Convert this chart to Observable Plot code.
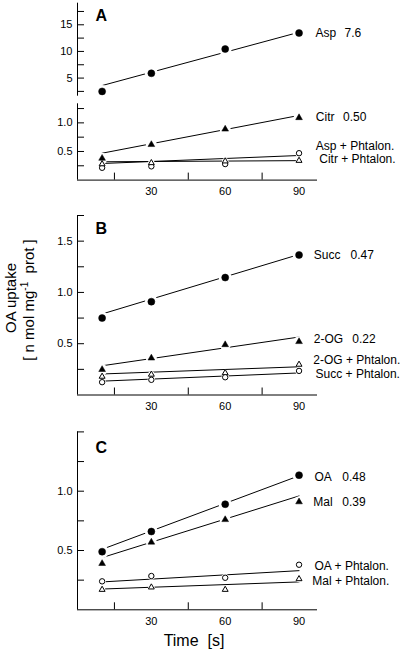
<!DOCTYPE html>
<html>
<head>
<meta charset="utf-8">
<script src="https://cdn.jsdelivr.net/npm/d3@7"></script>
<script src="https://cdn.jsdelivr.net/npm/@observablehq/plot@0.6"></script>
<style>
  body { margin: 0; background: #fff; }
  #chart { position: relative; width: 400px; height: 655px; background: #fff; font-family: "Liberation Sans", Arial, Helvetica, sans-serif; color: #000; }
  #chart svg { position: absolute; left: 0; }
  .rot { position: absolute; transform: translate(-50%, -50%) rotate(-90deg); white-space: pre; font-size: 15px; }
  .xt { position: absolute; transform: translate(-50%, -50%); white-space: pre; font-size: 16px; }
</style>
</head>
<body>
<div id="chart">
  <div class="rot" style="left:10px; top:298px;">OA uptake</div>
  <div class="rot" style="left:28px; top:300px;">[ n mol mg<sup style="font-size:10px">-1</sup>  prot ]</div>
  <div class="xt" style="left:194px; top:641px;">Time  [s]</div>
</div>
<script>
// ---------- data ----------
const time = [10, 30, 60, 90];
const fitTime = [10, 90];
const xTicks = [30, 60, 90];
const xMinorTicks = [15, 45, 75];

// Panel A
const asp = [2.5, 5.9, 10.45, 13.45];
const aspFit = [3.6, 13.6];
const citr = [0.38, 0.62, 0.89, 1.09];
const citrFit = [0.47, 1.13];
const aspPhtalon = [0.215, 0.24, 0.28, 0.47];
const aspPhtalonFit = [0.29, 0.43];
const citrPhtalon = [0.28, 0.30, 0.33, 0.34];
const citrPhtalonFit = [0.32, 0.34];
const aTopTicks = [5, 10, 15];
const aTopMinor = [2.5, 7.5, 12.5, 17.5];
const aBottomTicks = [0.5, 1.0];
const aBottomMinor = [0.25, 0.75, 1.25];

// Panel B
const succ = [0.75, 0.91, 1.145, 1.365];
const succFit = [0.79, 1.37];
const og = [0.248, 0.36, 0.49, 0.52];
const ogFit = [0.285, 0.565];
const ogPhtalon = [0.18, 0.20, 0.215, 0.297];
const ogPhtalonFit = [0.205, 0.275];
const succPhtalon = [0.125, 0.148, 0.173, 0.235];
const succPhtalonFit = [0.135, 0.215];
const bTicks = [0.5, 1.0, 1.5];
const bMinor = [0.25, 0.75, 1.25, 1.75];

// Panel C
const oa = [0.49, 0.66, 0.89, 1.135];
const oaFit = [0.51, 1.13];
const mal = [0.39, 0.57, 0.76, 0.91];
const malFit = [0.44, 0.96];
const oaPhtalon = [0.24, 0.285, 0.27, 0.38];
const oaPhtalonFit = [0.235, 0.33];
const malPhtalon = [0.17, 0.19, 0.17, 0.26];
const malPhtalonFit = [0.175, 0.235];
const cTicks = [0.5, 1.0];
const cMinor = [0.25, 0.75, 1.25, 1.5];

// ---------- drawing ----------
const FONT = '"Liberation Sans", Arial, Helvetica, sans-serif';
const chart = document.getElementById("chart");

function seriesMarks(s) {
  const rows = time.map((t, i) => ({t, v: s.values[i]}));
  const fitRows = fitTime.map((t, i) => ({t, v: s.fit[i]}));
  const last = rows[rows.length - 1];
  const filled = s.filled;
  const r = s.symbol === "circle" ? (filled ? 3.5 : 2.7) : (filled ? 2.5 : 2.2);
  const marks = {
    line: Plot.line(fitRows, {x: "t", y: "v", stroke: "black", strokeWidth: 1}),
    halo: Plot.dot(rows, {x: "t", y: "v", r: r + (filled ? 3 : 1), fill: "white", stroke: "none", symbol: "circle"}),
    dot: Plot.dot(rows, {x: "t", y: "v", r, symbol: s.symbol, fill: filled ? "black" : "white", stroke: "black", strokeWidth: filled ? 0.5 : 1}),
    texts: [Plot.text([last], {x: "t", y: "v", text: () => s.name, dx: s.dx, dy: s.dy || 0, textAnchor: "start", fontSize: 12, fill: "black"})]
  };
  if (s.value) marks.texts.push(Plot.text([last], {x: "t", y: "v", text: () => s.value, dx: s.vdx, dy: s.dy || 0, textAnchor: "start", fontSize: 12, fill: "black"}));
  return marks;
}

function panel({top, height, marginTop, marginBottom, yDomain, ticks, minor, fmt, xAxis, letter, letterDy, series}) {
  const sm = series.map(seriesMarks);
  const marks = [
    Plot.ruleX([0], {stroke: "black", strokeWidth: 1}),
    xAxis ? Plot.ruleY([0], {stroke: "black", strokeWidth: 1}) : null,
    Plot.axisY({ticks, tickSize: 0, tickPadding: 5, tickFormat: d3.format(fmt), fontSize: 11, label: null}),
    Plot.axisY({ticks: [...ticks, ...minor], tickSize: -7, tickFormat: () => "", label: null}),
    xAxis ? Plot.axisX({ticks: xTicks, tickSize: 0, tickPadding: 7, tickFormat: d3.format("d"), fontSize: 11, label: null}) : null,
    xAxis ? Plot.axisX({ticks: xMinorTicks, tickSize: -7, tickFormat: () => "", label: null}) : null,
    ...sm.map(m => m.line),
    ...sm.map(m => m.halo),
    ...sm.map(m => m.dot),
    ...sm.flatMap(m => m.texts),
    letter ? Plot.text([letter], {frameAnchor: "top-left", text: d => d, dx: 18, dy: letterDy, textAnchor: "start", fontSize: 16, fontWeight: "bold", fill: "black"}) : null
  ];
  const svg = Plot.plot({
    width: 400, height,
    marginLeft: 77, marginRight: 83, marginTop, marginBottom,
    x: {domain: [0, 97.5], label: null, axis: xAxis ? undefined : null},
    y: {domain: yDomain, label: null},
    style: {fontFamily: FONT, fontSize: "11px", background: "transparent", overflow: "visible", color: "black"},
    marks
  });
  svg.style.top = top + "px";
  chart.appendChild(svg);
}

// Panel A (broken axis: upper segment)
panel({
  top: 0, height: 100, marginTop: 2.7, marginBottom: 4.3,
  yDomain: [1.6, 19.05], ticks: aTopTicks, minor: aTopMinor, fmt: "d",
  xAxis: false, letter: "A", letterDy: 6.5,
  series: [
    {name: "Asp", value: "7.6", values: asp, fit: aspFit, symbol: "circle", filled: true, dx: 16.5, vdx: 45.5, dy: 0}
  ]
});
// Panel A (lower segment)
panel({
  top: 100, height: 110, marginTop: 3.3, marginBottom: 30.4,
  yDomain: [0, 1.333], ticks: aBottomTicks, minor: aBottomMinor, fmt: ".1f",
  xAxis: true,
  series: [
    {name: "Citr", value: "0.50", values: citr, fit: citrFit, symbol: "triangle", filled: true, dx: 16.8, vdx: 44, dy: -0.5},
    {name: "Asp + Phtalon.", values: aspPhtalon, fit: aspPhtalonFit, symbol: "circle", filled: false, dx: 16.8, dy: -7},
    {name: "Citr + Phtalon.", values: citrPhtalon, fit: citrPhtalonFit, symbol: "triangle", filled: false, dx: 20.2, dy: -1}
  ]
});
// Panel B
panel({
  top: 210, height: 210, marginTop: 5, marginBottom: 25.5,
  yDomain: [0, 1.75], ticks: bTicks, minor: bMinor, fmt: ".1f",
  xAxis: true, letter: "B", letterDy: 7,
  series: [
    {name: "Succ", value: "0.47", values: succ, fit: succFit, symbol: "circle", filled: true, dx: 14.8, vdx: 51.5, dy: 0},
    {name: "2-OG", value: "0.22", values: og, fit: ogFit, symbol: "triangle", filled: true, dx: 14.8, vdx: 53.2, dy: -3},
    {name: "2-OG + Phtalon.", values: ogPhtalon, fit: ogPhtalonFit, symbol: "triangle", filled: false, dx: 14.2, dy: -4},
    {name: "Succ + Phtalon.", values: succPhtalon, fit: succPhtalonFit, symbol: "circle", filled: false, dx: 16.5, dy: 3.6}
  ]
});
// Panel C
panel({
  top: 420, height: 235, marginTop: 11.4, marginBottom: 45.7,
  yDomain: [0, 1.5], ticks: cTicks, minor: cMinor, fmt: ".1f",
  xAxis: true, letter: "C", letterDy: 9.5,
  series: [
    {name: "OA", value: "0.48", values: oa, fit: oaFit, symbol: "circle", filled: true, dx: 15.5, vdx: 43.2, dy: 2},
    {name: "Mal", value: "0.39", values: mal, fit: malFit, symbol: "triangle", filled: true, dx: 14.2, vdx: 43.2, dy: 0},
    {name: "OA + Phtalon.", values: oaPhtalon, fit: oaPhtalonFit, symbol: "circle", filled: false, dx: 15.5, dy: 1},
    {name: "Mal + Phtalon.", values: malPhtalon, fit: malPhtalonFit, symbol: "triangle", filled: false, dx: 13.2, dy: 2.5}
  ]
});
</script>
</body>
</html>
